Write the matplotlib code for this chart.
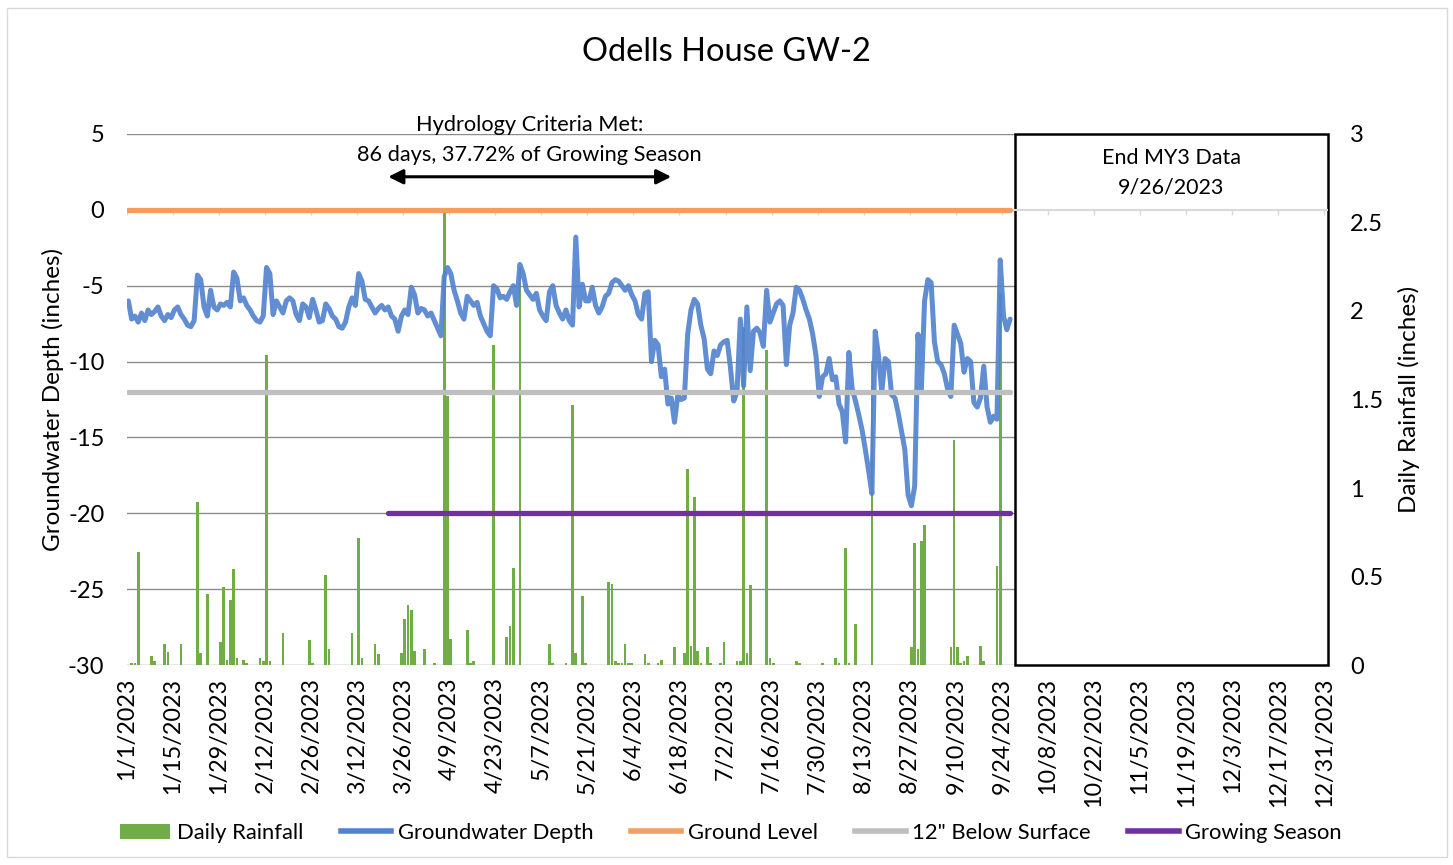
import pandas as pd
import matplotlib
matplotlib.use("Agg")
import matplotlib.pyplot as plt
import matplotlib.dates as mdates
from matplotlib.patches import Rectangle, Patch
from matplotlib.lines import Line2D

plt.rcParams['font.family'] = ['Lato', 'DejaVu Sans']
plt.rcParams['axes.unicode_minus'] = False

start = pd.Timestamp('2023-01-01')
axis_end = pd.Timestamp('2024-01-01')
data_end = pd.Timestamp('2023-09-26')
season_start = pd.Timestamp('2023-03-21')
criteria_days = 86

# daily groundwater depth (inches), 1/1/2023 .. 9/26/2023
gw_depth = [
    -6.0, -7.2, -7.0, -7.4, -6.8, -7.3, -6.6, -6.9, -6.7, -6.4,
    -7.0, -7.3, -6.9, -7.1, -6.6, -6.4, -6.9, -7.2, -7.6, -7.7,
    -7.3, -4.3, -4.6, -6.4, -7.0, -5.3, -6.4, -6.6, -6.2, -6.3,
    -6.1, -6.4, -4.1, -4.5, -6.0, -5.8, -6.3, -6.6, -7.0, -7.3,
    -7.4, -7.0, -3.8, -4.2, -6.9, -6.0, -6.4, -6.8, -6.0, -5.8,
    -6.0, -6.9, -7.3, -6.2, -6.4, -7.1, -5.9, -6.6, -7.4, -7.3,
    -6.2, -6.5, -7.0, -7.2, -7.7, -7.8, -7.4, -6.4, -5.8, -6.3,
    -4.2, -4.7, -5.9, -6.0, -6.4, -6.8, -6.5, -6.3, -6.6, -6.4,
    -7.0, -7.2, -8.0, -7.0, -6.6, -6.9, -5.1, -5.6, -6.8, -6.5,
    -6.6, -7.0, -6.8, -7.3, -7.8, -8.3, -4.4, -3.8, -4.2, -5.3,
    -6.0, -6.8, -7.2, -5.7, -6.0, -6.3, -6.1, -7.0, -7.5, -8.0,
    -8.3, -5.0, -5.2, -5.8, -5.7, -5.9, -5.4, -5.0, -6.3, -3.6,
    -4.2, -5.3, -5.6, -5.9, -5.5, -6.6, -7.0, -7.3, -5.4, -5.0,
    -6.3, -6.8, -7.2, -6.6, -7.3, -7.6, -1.8, -6.4, -4.9, -6.0,
    -6.0, -5.1, -6.3, -6.8, -6.4, -5.7, -5.5, -4.8, -4.6, -4.7,
    -5.0, -5.3, -5.0, -5.6, -6.0, -6.9, -7.2, -5.5, -5.4, -10.0,
    -8.6, -8.9, -11.0, -10.5, -12.8, -12.4, -14.0, -12.2, -12.5, -12.4,
    -8.2, -6.6, -5.9, -6.2, -7.6, -8.5, -10.5, -10.8, -9.3, -9.6,
    -8.9, -8.7, -8.6, -10.4, -12.6, -12.0, -7.2, -11.6, -6.4, -10.6,
    -8.0, -7.8, -8.1, -9.0, -5.3, -7.4, -6.8, -6.2, -6.0, -6.3,
    -10.2, -7.6, -6.8, -5.1, -5.3, -5.9, -6.6, -7.2, -8.2, -9.6,
    -12.3, -11.0, -10.8, -9.8, -11.2, -11.0, -12.8, -13.3, -15.3, -9.4,
    -11.8, -12.6, -13.5, -14.5, -15.8, -17.2, -18.7, -8.0, -9.6, -12.0,
    -9.8, -10.0, -12.2, -12.4, -13.4, -14.6, -15.8, -18.8, -19.5, -18.2,
    -8.2, -12.0, -6.0, -4.6, -4.8, -8.7, -10.0, -10.2, -10.8, -11.8,
    -12.3, -7.6, -8.2, -8.8, -10.7, -9.8, -10.0, -12.7, -13.0, -12.4,
    -10.3, -13.0, -14.0, -13.6, -13.8, -3.3, -7.0, -7.9, -7.2,
]

# days with rain (day of year, 0 = 1/1) and amounts (inches)
rain_day = [
    1, 2, 3, 7, 8, 11, 12, 16, 21, 22, 24, 28, 29, 30, 31, 32, 33, 35, 36,
    40, 41, 42, 43, 47, 55, 56, 60, 61, 68, 70, 71, 75, 76, 83, 84, 85, 86,
    87, 90, 93, 96, 97, 98, 103, 104, 105, 111, 115, 116, 117, 119, 128,
    129, 133, 135, 136, 138, 139, 146, 147, 148, 149, 150, 151, 152, 153,
    157, 158, 161, 162, 166, 169, 170, 171, 172, 173, 174, 176, 177, 180,
    181, 185, 186, 187, 188, 189, 194, 195, 196, 203, 204, 211, 215, 216,
    218, 219, 221, 226, 238, 239, 240, 241, 242, 250, 251, 252, 253, 254,
    255, 259, 260, 264, 265,
]
rain_in = [
    0.01, 0.01, 0.64, 0.05, 0.02, 0.12, 0.075, 0.12, 0.92, 0.07, 0.40, 0.13,
    0.44, 0.03, 0.37, 0.54, 0.04, 0.03, 0.01,
    0.04, 0.02, 1.75, 0.02, 0.18, 0.14, 0.01, 0.51, 0.09, 0.18, 0.72, 0.04,
    0.12, 0.06, 0.07, 0.26, 0.34, 0.31,
    0.08, 0.09, 0.01, 2.56, 1.52, 0.145, 0.20, 0.01, 0.02, 1.81, 0.16, 0.22,
    0.55, 2.25, 0.12,
    0.01, 0.01, 1.47, 0.07, 0.39, 0.01, 0.47, 0.46, 0.02, 0.01, 0.01, 0.12,
    0.01, 0.01,
    0.06, 0.01, 0.01, 0.03, 0.10, 0.07, 1.11, 0.11, 0.95, 0.08, 0.01, 0.10,
    0.01, 0.01,
    0.13, 0.02, 0.02, 1.91, 0.07, 0.45, 1.78, 0.04, 0.01, 0.02, 0.01, 0.01,
    0.04, 0.01,
    0.66, 0.01, 0.23, 1.72, 0.10, 0.69, 0.09, 0.70, 0.79, 0.10, 1.27, 0.10,
    0.01, 0.02,
    0.05, 0.11, 0.02, 0.56, 2.10,
]

ground_level = 0
below_surface = -12
season_level = -20

half_day = pd.Timedelta(hours=12)
gw_dates = pd.date_range(start, periods=len(gw_depth), freq='D') + half_day
rain_dates = start + pd.to_timedelta(rain_day, unit='D') + half_day
tick_dates = pd.date_range(start, '2023-12-31', freq='14D')

c_rain = '#70ad47'
c_gw = '#5383cf'
c_ground = '#f29e63'
c_12 = '#bfbfbf'
c_season = '#7030a0'

fig = plt.figure(figsize=(14.53, 8.65), dpi=100)
fig.patches.append(Rectangle((7 / 1453, 8 / 865), 1440 / 1453, 849 / 865,
                             transform=fig.transFigure, fill=False,
                             edgecolor='#d9d9d9', lw=1))

ax = fig.add_axes([0.0872, 0.2312, 0.8265, 0.6139])
axr = ax.twinx()
axl = ax.twinx()

for a in (ax, axr, axl):
    for s in a.spines.values():
        s.set_visible(False)

# left axis: gridlines + labels
ax.set_xlim(start, axis_end)
ax.set_ylim(-30, 5)
ax.set_yticks(range(-30, 6, 5))
ax.set_axisbelow(True)
ax.grid(axis='y', color='#8c8c8c', lw=1.0)
ax.tick_params(axis='y', length=0, labelsize=17, pad=16)
ax.set_xticks(tick_dates)
ax.set_xticklabels([f"{d.month}/{d.day}/{d.year}" for d in tick_dates],
                   rotation=90, fontsize=16.8)
ax.tick_params(axis='x', length=0, pad=9)
ax.set_ylabel('Groundwater Depth (inches)', fontsize=17.5, labelpad=3)

# right axis: rainfall bars
axr.set_ylim(0, 3)
axr.set_yticks([0, 0.5, 1, 1.5, 2, 2.5, 3])
axr.set_yticklabels(['0', '0.5', '1', '1.5', '2', '2.5', '3'])
axr.tick_params(axis='y', length=0, labelsize=17, pad=16)
axr.set_ylabel('Daily Rainfall (inches)', fontsize=17.5, labelpad=11)
axr.bar(rain_dates, rain_in, width=0.8, color=c_rain)

# lines on top
axl.set_ylim(-30, 5)
axl.yaxis.set_visible(False)

box_left = pd.Timestamp('2023-09-28')
x0 = mdates.date2num(box_left)
x1 = mdates.date2num(axis_end)
axl.add_patch(Rectangle((x0, -30), x1 - x0, 35, facecolor='white',
                        edgecolor='black', lw=1.8, zorder=1, clip_on=False))
axl.text(mdates.date2num(box_left + (axis_end - box_left) / 2), 2.42,
         'End MY3 Data\n9/26/2023', ha='center', va='center', fontsize=15.5,
         linespacing=1.6)

# x axis line sits at 0 with tick marks
axl.axhline(0, color='#d9d9d9', lw=1.5, zorder=1.5)
axl.vlines(tick_dates, -0.35, 0, color='#d9d9d9', lw=1, zorder=1.5)

line_x = [gw_dates[0], gw_dates[-1]]
axl.plot(gw_dates, gw_depth, color=c_gw, lw=3.6, alpha=0.92,
         solid_joinstyle='round', solid_capstyle='round', zorder=3)
axl.plot(line_x, [ground_level] * 2, color=c_ground, lw=3.8,
         solid_capstyle='round', zorder=3)
axl.plot(line_x, [below_surface] * 2, color=c_12, lw=3.8,
         solid_capstyle='round', zorder=3)
axl.plot([season_start + half_day, gw_dates[-1]], [season_level] * 2,
         color=c_season, lw=3.8, solid_capstyle='round', zorder=3)

crit_end = season_start + pd.Timedelta(days=criteria_days) + half_day
axl.annotate('', xy=(season_start + half_day, 2.18), xytext=(crit_end, 2.18),
             arrowprops=dict(arrowstyle='<|-|>', color='black', lw=2.2,
                             mutation_scale=22, shrinkA=0, shrinkB=0))
mid = season_start + half_day + (crit_end - season_start - half_day) / 2
axl.text(mid, 4.6, 'Hydrology Criteria Met:\n86 days, 37.72% of Growing Season',
         ha='center', va='center', fontsize=15.7, linespacing=1.6)

fig.text(0.5, 1 - 52 / 865, 'Odells House GW-2', ha='center', va='center',
         fontsize=23.5)

handles = [
    Patch(facecolor=c_rain),
    Line2D([], [], color=c_gw, lw=4),
    Line2D([], [], color=c_ground, lw=4),
    Line2D([], [], color=c_12, lw=4),
    Line2D([], [], color=c_season, lw=4),
]
labels = ['Daily Rainfall', 'Groundwater Depth', 'Ground Level',
          '12" Below Surface', 'Growing Season']
fig.legend(handles, labels, loc='center', bbox_to_anchor=(0.503, 1 - 833 / 865),
           ncol=5, frameon=False, fontsize=15.8, handlelength=2.3,
           handleheight=0.7, handletextpad=0.3, columnspacing=1.7)

fig.savefig('out.png', dpi=100)
